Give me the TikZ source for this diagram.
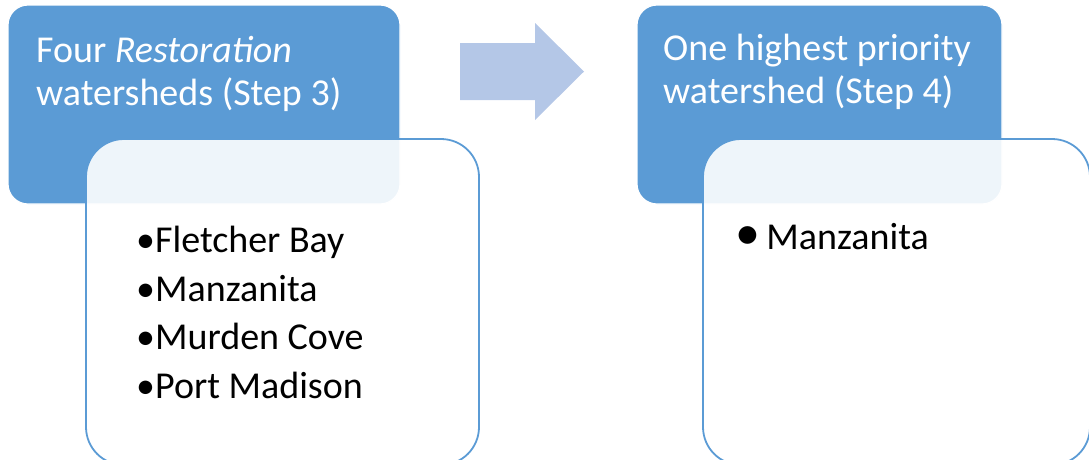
\documentclass[tikz,border=0pt]{standalone}
\usepackage{fontspec}
\setmainfont{Carlito}
\definecolor{boxblue}{HTML}{5B9BD5}
\definecolor{arrowblue}{HTML}{B4C7E7}
\tikzset{
  headbox/.style={draw=white, line width=1.2pt, fill=boxblue, rounded corners=20pt, inner sep=0pt},
  listbox/.style={draw=boxblue, line width=1.8pt, fill=white, fill opacity=0.9, rounded corners=38pt, inner sep=0pt},
  headtext/.style={text=white, font=\fontsize{38}{43}\selectfont, align=left, inner sep=0pt, anchor=base west},
  listtext/.style={text=black, font=\fontsize{38}{48.5}\selectfont, align=left, inner sep=0pt, anchor=base west},
}
\begin{document}
\begin{tikzpicture}[x=1pt,y=-1pt]
    \useasboundingbox (0,0) rectangle (1089,459);
    \clip (0,0) rectangle (1089,459);
    \node[headbox, minimum width=392pt, minimum height=199pt] (head3) at (204,104.5) {};
    \node[headtext] (title3) at (36,105) {Four \textit{Restoration}\\watersheds (Step 3)};
    \node[listbox, minimum width=393pt, minimum height=326pt] (list3) at (282.5,302) {};
    \node[listtext] (items3) at (136,398) {•Fletcher Bay\\•Manzanita\\•Murden Cove\\•Port Madison};
    \fill[arrowblue] (460,43) -- (535,43) -- (535,23) -- (584,71.5) -- (535,120) -- (535,100) -- (460,100) -- cycle;
    \node[headbox, minimum width=365pt, minimum height=199pt] (head4) at (819.5,104.5) {};
    \node[headtext] (title4) at (663,103) {One highest priority\\watershed (Step 4)};
    \node[listbox, minimum width=387pt, minimum height=326pt] (list4) at (896.5,302) {};
    \node[listtext] (items4) at (735,249) {{\fontsize{50}{49}\selectfont •}\,Manzanita};
\end{tikzpicture}
\end{document}
